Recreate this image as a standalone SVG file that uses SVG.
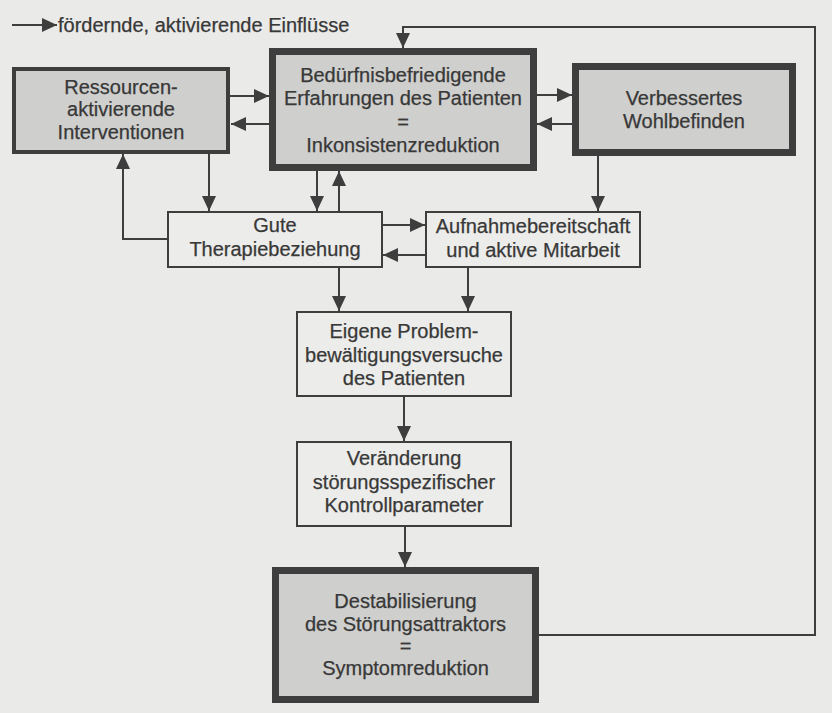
<svg xmlns="http://www.w3.org/2000/svg" width="832" height="713" viewBox="0 0 832 713">
  <style>
    .bg { fill: #eaeae8; }
    .heavy { fill: #cfcfcd; stroke: #3e3e3e; }
    .plain { fill: #ececea; stroke: #3e3e3e; stroke-width: 2; }
    .lbl { font-family: "Liberation Sans", Arial, Helvetica, sans-serif; font-size: 20px; fill: #383838; text-anchor: middle; stroke: #383838; stroke-width: 0.25; }
    .legend { font-family: "Liberation Sans", Arial, Helvetica, sans-serif; font-size: 20px; fill: #383838; stroke: #383838; stroke-width: 0.25; }
    .wire { fill: none; stroke: #3e3e3e; stroke-width: 2; marker-end: url(#head); }
  </style>
  <defs>
    <marker id="head" markerUnits="userSpaceOnUse" markerWidth="16" markerHeight="15" refX="15" refY="7" orient="auto">
      <path d="M0,0 L15,7 L0,14 Z" fill="#3e3e3e"/>
    </marker>
  </defs>

  <rect class="bg" x="0" y="0" width="832" height="713"/>

  <!-- legend -->
  <g id="legend">
    <line class="wire" x1="12" y1="25" x2="57" y2="25"/>
    <text class="legend" x="58" y="32">fördernde, aktivierende Einflüsse</text>
  </g>

  <!-- connectors -->
  <g id="connectors">
    <line class="wire" x1="230" y1="96" x2="269" y2="96"/>
    <line class="wire" x1="269" y1="124" x2="231" y2="124"/>
    <line class="wire" x1="537" y1="95" x2="572" y2="95"/>
    <line class="wire" x1="572" y1="124" x2="537" y2="124"/>
    <line class="wire" x1="209" y1="154" x2="209" y2="211"/>
    <polyline class="wire" points="167,239 123,239 123,154"/>
    <line class="wire" x1="317" y1="171" x2="317" y2="211"/>
    <line class="wire" x1="339" y1="211" x2="339" y2="171"/>
    <line class="wire" x1="598" y1="156" x2="598" y2="211"/>
    <line class="wire" x1="383" y1="225" x2="425" y2="225"/>
    <line class="wire" x1="425" y1="255" x2="383" y2="255"/>
    <line class="wire" x1="339" y1="268" x2="339" y2="311"/>
    <line class="wire" x1="468" y1="268" x2="468" y2="311"/>
    <line class="wire" x1="404" y1="397" x2="404" y2="441"/>
    <line class="wire" x1="405" y1="527" x2="405" y2="567"/>
    <polyline class="wire" points="539,635 815,635 815,27 403,27 403,48"/>
  </g>

  <!-- nodes -->
  <g id="ressourcen">
    <rect class="heavy" x="14" y="69" width="214" height="83" stroke-width="4"/>
    <text class="lbl" x="121" y="93.5">Ressourcen-</text>
    <text class="lbl" x="121" y="116">aktivierende</text>
    <text class="lbl" x="121" y="138.5">Interventionen</text>
  </g>

  <g id="beduerfnis">
    <rect class="heavy" x="272.5" y="51.5" width="261" height="116" stroke-width="7"/>
    <text class="lbl" x="403" y="82">Bedürfnisbefriedigende</text>
    <text class="lbl" x="403" y="105.3">Erfahrungen des Patienten</text>
    <text class="lbl" x="403" y="128.6">=</text>
    <text class="lbl" x="403" y="152">Inkonsistenzreduktion</text>
  </g>

  <g id="wohlbefinden">
    <rect class="heavy" x="575.5" y="66.5" width="217" height="86" stroke-width="7"/>
    <text class="lbl" x="684" y="105">Verbessertes</text>
    <text class="lbl" x="684" y="128">Wohlbefinden</text>
  </g>

  <g id="therapiebeziehung">
    <rect class="plain" x="168" y="212" width="214" height="55"/>
    <text class="lbl" x="275" y="232">Gute</text>
    <text class="lbl" x="275" y="256">Therapiebeziehung</text>
  </g>

  <g id="aufnahmebereitschaft">
    <rect class="plain" x="426" y="212" width="214" height="55"/>
    <text class="lbl" x="533" y="233">Aufnahmebereitschaft</text>
    <text class="lbl" x="533" y="257">und aktive Mitarbeit</text>
  </g>

  <g id="problembewaeltigung">
    <rect class="plain" x="297" y="312" width="214" height="84"/>
    <text class="lbl" x="404" y="338">Eigene Problem-</text>
    <text class="lbl" x="404" y="361.5">bewältigungsversuche</text>
    <text class="lbl" x="404" y="385">des Patienten</text>
  </g>

  <g id="kontrollparameter">
    <rect class="plain" x="297" y="442" width="214" height="84"/>
    <text class="lbl" x="404" y="465">Veränderung</text>
    <text class="lbl" x="404" y="488.5">störungsspezifischer</text>
    <text class="lbl" x="404" y="512">Kontrollparameter</text>
  </g>

  <g id="destabilisierung">
    <rect class="heavy" x="275.5" y="570.5" width="260" height="129" stroke-width="7"/>
    <text class="lbl" x="405.5" y="608">Destabilisierung</text>
    <text class="lbl" x="405.5" y="630.5">des Störungsattraktors</text>
    <text class="lbl" x="405.5" y="653">=</text>
    <text class="lbl" x="405.5" y="675">Symptomreduktion</text>
  </g>
</svg>
